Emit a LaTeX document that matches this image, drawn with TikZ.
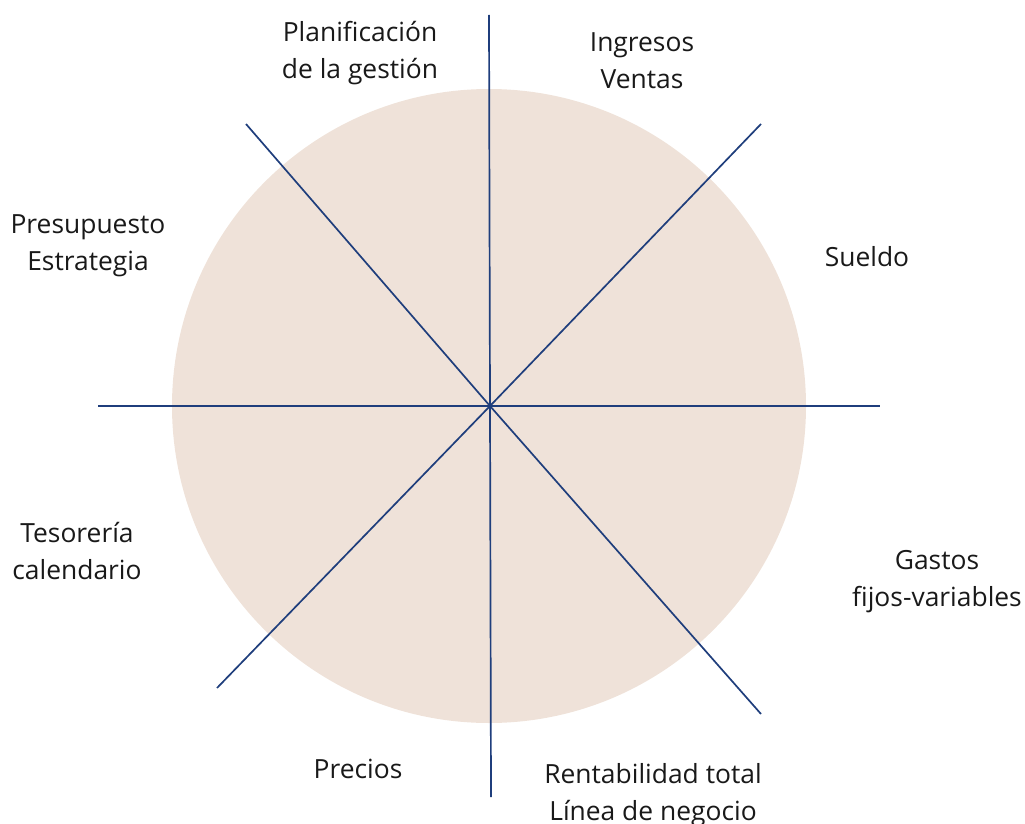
\documentclass[tikz,border=0pt]{standalone}
\usepackage{fontspec}
\setmainfont{Open Sans}
\definecolor{disc}{HTML}{EFE2D9}
\definecolor{navy}{HTML}{1F3E7C}
\begin{document}
\begin{tikzpicture}[x=1pt,y=-1pt,
  lab/.style={align=center,font=\fontsize{26.4}{37}\selectfont,text=black!90,inner sep=0pt},
  spoke/.style={draw=navy,line width=1.7pt}]
\useasboundingbox (0,0) rectangle (1025,824);
\fill[disc] (489,406) circle (317);
\coordinate (c) at (490,406);
\coordinate (t) at (489,15);
\coordinate (b) at (491,797);
\coordinate (l) at (98,406);
\coordinate (r) at (880,406);
\coordinate (tl) at (246,124);
\coordinate (br) at (761,714);
\coordinate (tr) at (761,124);
\coordinate (bl) at (217,688);
\draw[spoke] (t) -- (c) -- (b);
\draw[spoke] (l) -- (c) -- (r);
\draw[spoke] (tl) -- (c) -- (br);
\draw[spoke] (tr) -- (c) -- (bl);
\node[lab] (n1) at (360,53) {Planificación\\de la gestión};
\node[lab] (n2) at (642,61) {Ingresos\\Ventas};
\node[lab] (n3) at (867,257) {Sueldo};
\node[lab] (n4) at (88,246) {Presupuesto\\Estrategia};
\node[lab] (n5) at (77,551) {Tesorería\\calendario};
\node[lab] (n6) at (937,582) {Gastos\\fijos-variables};
\node[lab] (n7) at (358,769) {Precios};
\node[lab] (n8) at (653,795) {Rentabilidad total\\Línea de negocio};
\end{tikzpicture}
\end{document}
